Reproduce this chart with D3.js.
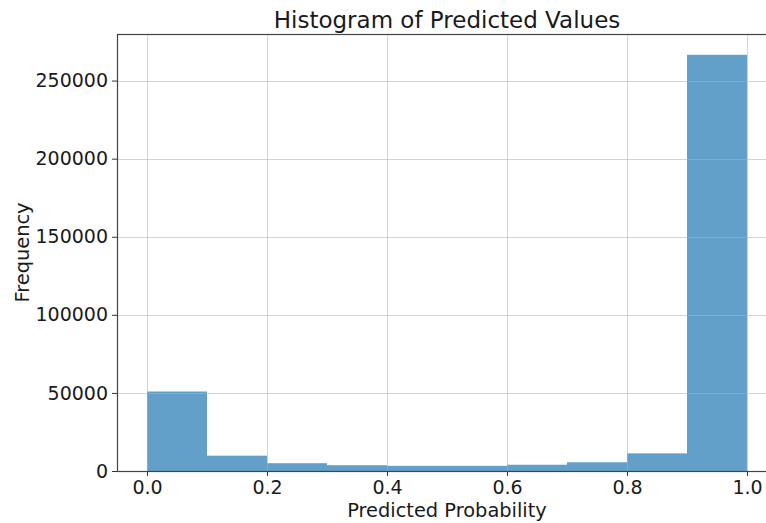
<!DOCTYPE html>
<html>
<head>
<meta charset="utf-8">
<script src="https://cdn.jsdelivr.net/npm/d3@7"></script>
<style>
  html, body { margin: 0; padding: 0; background: #fff; }
  svg { display: block; font-family: "DejaVu Sans", sans-serif; }
</style>
</head>
<body>
<svg id="chart" width="766" height="523"></svg>
<script>
// Histogram bins (lower/upper edges) and their counts
const binStarts = [0.0, 0.1, 0.2, 0.3, 0.4, 0.5, 0.6, 0.7, 0.8, 0.9];
const binEnds   = [0.1, 0.2, 0.3, 0.4, 0.5, 0.6, 0.7, 0.8, 0.9, 1.0];
const counts    = [50900, 9800, 5000, 3700, 3300, 3300, 4000, 5600, 11300, 266500];
const xTicks = [0.0, 0.2, 0.4, 0.6, 0.8, 1.0];
const yTicks = [0, 50000, 100000, 150000, 200000, 250000];

const svg = d3.select("#chart");
const plot = { left: 117, right: 777, top: 34, bottom: 471 };

const x = d3.scaleLinear().domain([-0.05, 1.05]).range([plot.left, plot.right]);
const yMax = d3.max(counts) * 1.05;
const y = d3.scaleLinear().domain([0, yMax]).range([plot.bottom, plot.top]);

const bins = binStarts.map((s, i) => ({ x0: s, x1: binEnds[i], n: counts[i] }));

// bars
svg.append("g").selectAll("rect").data(bins).join("rect")
  .attr("x", d => x(d.x0))
  .attr("y", d => y(d.n))
  .attr("width", d => x(d.x1) - x(d.x0))
  .attr("height", d => y(0) - y(d.n))
  .attr("fill", "#1f77b4")
  .attr("fill-opacity", 0.7);

// grid lines
const grid = svg.append("g").attr("stroke", "#b0b0b0").attr("stroke-opacity", 0.55).attr("stroke-width", 1);
grid.selectAll("line.vx").data(xTicks).join("line")
  .attr("x1", d => Math.round(x(d)) + 0.5).attr("x2", d => Math.round(x(d)) + 0.5)
  .attr("y1", plot.top).attr("y2", plot.bottom);
grid.selectAll("line.hy").data(yTicks).join("line")
  .attr("y1", d => Math.round(y(d)) + 0.5).attr("y2", d => Math.round(y(d)) + 0.5)
  .attr("x1", plot.left).attr("x2", plot.right);

// axes
const xAxis = d3.axisBottom(x).tickValues(xTicks).tickFormat(d3.format(".1f"))
  .tickSize(5).tickPadding(5);
const yAxis = d3.axisLeft(y).tickValues(yTicks).tickFormat(d3.format("d"))
  .tickSize(5).tickPadding(4);

const gx = svg.append("g").attr("transform", `translate(0,${plot.bottom})`).call(xAxis);
const gy = svg.append("g").attr("transform", `translate(${plot.left},0)`).call(yAxis);
[gx, gy].forEach(g => {
  g.select(".domain").remove();
  g.selectAll(".tick line").attr("stroke", "#333").attr("stroke-width", 1);
  g.selectAll(".tick text").attr("font-size", 19).attr("fill", "#1a1a1a")
    .attr("font-family", "DejaVu Sans, sans-serif");
});

// frame
svg.append("rect")
  .attr("x", plot.left + 0.5).attr("y", plot.top + 0.5)
  .attr("width", plot.right - plot.left).attr("height", plot.bottom - plot.top)
  .attr("fill", "none").attr("stroke", "#444").attr("stroke-width", 1.2);

// titles
svg.append("text")
  .attr("x", (plot.left + plot.right) / 2).attr("y", 28)
  .attr("text-anchor", "middle").attr("font-size", 23).attr("fill", "#1a1a1a")
  .text("Histogram of Predicted Values");

svg.append("text")
  .attr("x", (plot.left + plot.right) / 2).attr("y", 517)
  .attr("text-anchor", "middle").attr("font-size", 19.4).attr("fill", "#1a1a1a")
  .text("Predicted Probability");

svg.append("text")
  .attr("transform", `translate(29,${(plot.top + plot.bottom) / 2}) rotate(-90)`)
  .attr("text-anchor", "middle").attr("font-size", 19.4).attr("fill", "#1a1a1a")
  .text("Frequency");
</script>
</body>
</html>
